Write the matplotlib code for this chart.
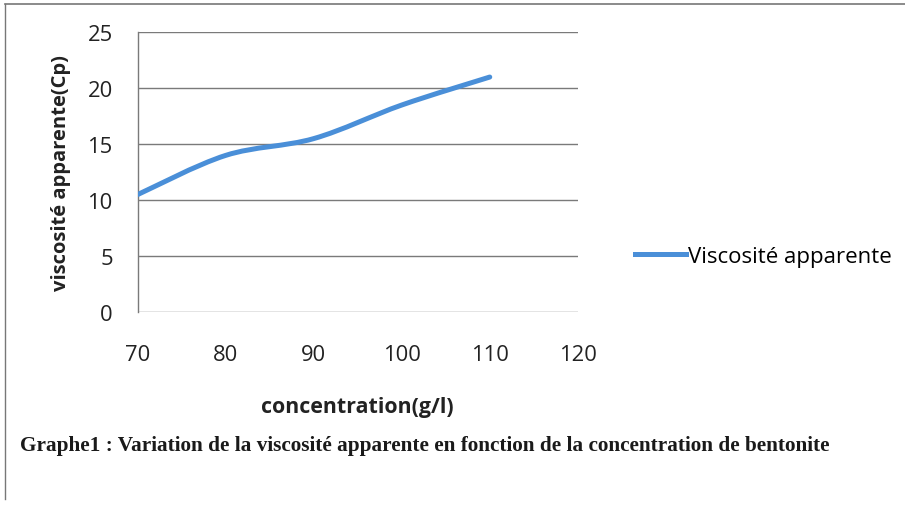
import matplotlib
matplotlib.use("Agg")
import numpy as np
from matplotlib import pyplot as plt
from matplotlib.path import Path
from matplotlib.patches import PathPatch
from matplotlib.lines import Line2D

# data
concentration = [70, 80, 90, 100, 110]
viscosite = [10.5, 14.0, 15.5, 18.5, 21.0]
series_name = "Viscosité apparente"
xlabel = "concentration(g/l)"
ylabel = "viscosité apparente(Cp)"
caption = ("Graphe1 : Variation de la viscosité apparente en fonction "
           "de la concentration de bentonite")

blue = "#4a8fd8"
grid_col = "#7a7a7a"
font = "Open Sans"

fig = plt.figure(figsize=(9.05, 5.06), dpi=100)
ax = fig.add_axes([0.1522, 0.3814, 0.4862, 0.5528])

# smoothed line (Excel style: Catmull-Rom bezier through the points)
pts = np.column_stack([concentration, viscosite])
p = np.vstack([pts[0], pts, pts[-1]])
verts = [tuple(pts[0])]
codes = [Path.MOVETO]
for i in range(1, len(p) - 2):
    c1 = p[i] + (p[i + 1] - p[i - 1]) / 6
    c2 = p[i + 1] - (p[i + 2] - p[i]) / 6
    verts += [tuple(c1), tuple(c2), tuple(p[i + 1])]
    codes += [Path.CURVE4] * 3
ax.add_patch(PathPatch(Path(verts, codes), facecolor="none", edgecolor=blue,
                       lw=3.6, capstyle="round", joinstyle="round", zorder=3))

ax.set_xlim(70, 120)
ax.set_ylim(0, 25)
ax.set_xticks([70, 80, 90, 100, 110, 120])
ax.set_yticks([0, 5, 10, 15, 20, 25])
ax.yaxis.grid(True, color=grid_col, lw=1.0)
ax.set_axisbelow(True)
for s in ["top", "right", "bottom"]:
    ax.spines[s].set_visible(False)
ax.spines["left"].set_color(grid_col)
ax.spines["left"].set_linewidth(1.0)
ax.tick_params(length=0, labelsize=15.8, colors="#222222")
ax.tick_params(axis="x", pad=23)
ax.tick_params(axis="y", pad=18)
for lab in ax.get_xticklabels() + ax.get_yticklabels():
    lab.set_fontfamily(font)

ax.set_xlabel(xlabel, fontsize=15.4, fontweight="bold", family=font,
              color="#222222", labelpad=22)
ax.set_ylabel(ylabel, fontsize=14.5, fontweight="bold", family=font,
              color="#222222", labelpad=12)

handle = Line2D([], [], color=blue, lw=3.6)
fig.legend([handle], [series_name], loc="center left",
           bbox_to_anchor=(0.702, 0.492), frameon=False,
           prop={"family": font, "size": 16}, handlelength=2.3,
           handletextpad=0.05, borderaxespad=0, borderpad=0)

fig.text(20 / 905, 1 - 446 / 506, caption, family="Liberation Serif",
         fontweight="bold", fontsize=15.3, va="center", ha="left",
         color="#1a1a1a")

# page border of the scanned figure
fig.add_artist(Line2D([5 / 905, 1], [1 - 5 / 506, 1 - 5 / 506],
                      transform=fig.transFigure, color="#777777", lw=1.2))
fig.add_artist(Line2D([5 / 905, 5 / 905], [1 - 5 / 506, 6 / 506],
                      transform=fig.transFigure, color="#777777", lw=1.0))

fig.savefig("out.png", dpi=100)
